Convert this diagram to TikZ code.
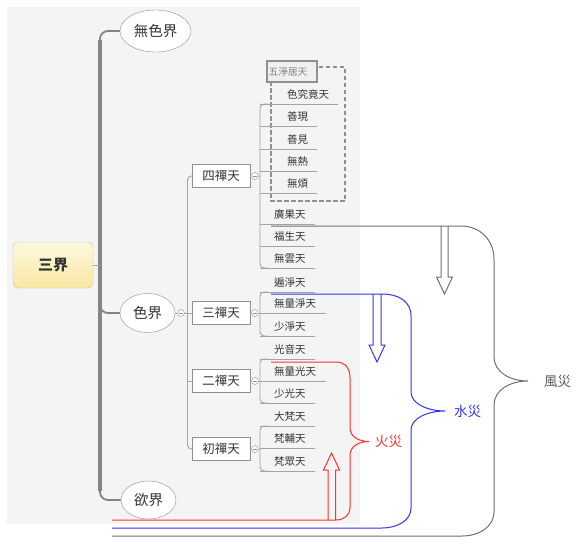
\documentclass[tikz,border=0pt]{standalone}
\usepackage{fontspec}
\setmainfont{Noto Sans CJK TC}
\usetikzlibrary{shapes.geometric}
\definecolor{bg}{HTML}{F4F4F4}
\definecolor{ln}{HTML}{A4A4A4}
\definecolor{boxln}{HTML}{909090}
\definecolor{tx}{HTML}{333333}
\definecolor{trunkc}{HTML}{858585}
\definecolor{windc}{HTML}{707070}
\definecolor{firec}{HTML}{FF3030}
\definecolor{waterc}{HTML}{3030FF}
\definecolor{rootln}{HTML}{D2C38C}
\definecolor{roottop}{HTML}{FDF9DE}
\definecolor{rootbot}{HTML}{F7E7A2}
\definecolor{blfill}{HTML}{F0F0F0}
\begin{document}
\begin{tikzpicture}[x=1pt,y=-1pt,
  conn/.style={draw=ln, line width=0.9pt},
  ulstyle/.style={draw=ln, line width=0.9pt},
  leaf/.style={inner sep=0pt, minimum height=19pt, anchor=south west, text=tx, font=\fontsize{10.5}{12}\selectfont},
  cat/.style={draw=boxln, fill=white, minimum width=58pt, minimum height=23pt, inner sep=0pt, text=tx, font=\fontsize{12.5}{14}\selectfont},
  marker/.style={circle, draw=boxln, fill=white, minimum size=7pt, inner sep=0pt,
    path picture={\draw[boxln, line width=0.6pt] ([xshift=-2pt]path picture bounding box.center) -- ([xshift=2pt]path picture bounding box.center);}},
  realm/.style={ellipse, draw=boxln, fill=white, inner sep=0pt, text=tx, font=\fontsize{14.5}{16}\selectfont},
  trunkthin/.style={draw=trunkc, line width=1.8pt},
  trunkthick/.style={draw=trunkc, line width=3.4pt},
  rootbox/.style={draw=rootln, rounded corners=5pt, top color=roottop, bottom color=rootbot, minimum width=80pt, minimum height=46pt, inner sep=0pt, text=tx, font=\fontsize{15}{17}\selectfont\bfseries},
  boundary/.style={draw=boxln, line width=2pt, dash pattern=on 4.5pt off 2.5pt},
  blabel/.style={draw=boxln, line width=2pt, fill=blfill, minimum width=50pt, minimum height=21pt, inner sep=0pt, text=gray, font=\fontsize{9.7}{11}\selectfont},
  disaster/.style={line width=1pt},
  dlabel/.style={font=\fontsize{13.5}{15}\selectfont, inner sep=0pt}
]
\useasboundingbox (0,0) rectangle (585,554);
\fill[bg] (7,7) rectangle (360,524);

% root and realms
\node[rootbox] (root) at (53,265) {三界};
\node[realm, minimum width=71pt, minimum height=42pt] (wu) at (155.5,31) {無色界};
\node[realm, minimum width=55pt, minimum height=39pt] (se) at (147.5,313) {色界};
\node[realm, minimum width=55pt, minimum height=38pt] (yu) at (148.5,500) {欲界};

\draw[trunkthin, rounded corners=8pt] (wu.west) -| (100,265) |- (yu.west);
\draw[trunkthin, rounded corners=8pt] (100,285) |- (se.west);
\draw[trunkthick] (100,40) -- (100,491);
\draw[conn] (root.east) -- (100,265);

\node[marker] (mse) at (181,313) {};
\draw[conn] (se.east) -- (mse.west);

% dhyana boxes
\node[cat] (c4) at (221,176) {四禪天};
\node[cat] (c3) at (221,313) {三禪天};
\node[cat] (c2) at (221,381) {二禪天};
\node[cat] (c1) at (221,449) {初禪天};
\node[marker] (m4) at (255,176) {};
\node[marker] (m3) at (255,313) {};
\node[marker] (m2) at (255,381) {};
\node[marker] (m1) at (255,449) {};
\draw[conn, rounded corners=4pt] (c4.west) -- (187.5,176) -- (187.5,449) -- (c1.west);
\draw[conn] (mse.east) -- (c3.west);
\draw[conn] (187.5,381) -- (c2.west);
\foreach \c/\m in {c4/m4,c3/m3,c2/m2,c1/m1} \draw[conn] (\c.east) -- (\m.west);

% boundary of 五淨居天
\draw[boundary] (271,67) rectangle (345,201);
\node[blabel] (bl) at (292,71.5) {五淨居天\hspace*{8pt}};

% leaves of 四禪天
\node[leaf] (a1) at (260,104) {\hspace*{27pt}色究竟天\hspace*{9pt}};
\node[leaf] (a2) at (260,126) {\hspace*{27pt}善現\hspace*{9pt}};
\node[leaf] (a3) at (260,149) {\hspace*{27pt}善見\hspace*{9pt}};
\node[leaf] (a4) at (260,171) {\hspace*{27pt}無熱\hspace*{9pt}};
\node[leaf] (a5) at (260,193) {\hspace*{27pt}無煩\hspace*{9pt}};
\node[leaf] (a6) at (260,224) {\hspace*{14pt}廣果天\hspace*{9.5pt}};
\node[leaf] (a7) at (260,246) {\hspace*{14pt}福生天\hspace*{9.5pt}};
\node[leaf] (a8) at (260,268) {\hspace*{14pt}無雲天\hspace*{9.5pt}};
% leaves of 三禪天
\node[leaf] (b1) at (260,292) {\hspace*{14pt}遍淨天\hspace*{9.5pt}};
\node[leaf] (b2) at (260,313) {\hspace*{14pt}無量淨天\hspace*{9.5pt}};
\node[leaf] (b3) at (260,336) {\hspace*{14pt}少淨天\hspace*{9.5pt}};
% leaves of 二禪天
\node[leaf] (d1) at (260,359) {\hspace*{14pt}光音天\hspace*{9.5pt}};
\node[leaf] (d2) at (260,381) {\hspace*{14pt}無量光天\hspace*{9.5pt}};
\node[leaf] (d3) at (260,403) {\hspace*{14pt}少光天\hspace*{9.5pt}};
% leaves of 初禪天
\node[leaf] (e1) at (260,426) {\hspace*{14pt}大梵天\hspace*{9.5pt}};
\node[leaf] (e2) at (260,448) {\hspace*{14pt}梵輔天\hspace*{9.5pt}};
\node[leaf] (e3) at (260,471) {\hspace*{14pt}梵眾天\hspace*{9.5pt}};

\foreach \n in {a1,a2,a3,a4,a5,a6,a7,a8,b1,b2,b3,d1,d2,d3,e1,e2,e3}
  \draw[ulstyle] (\n.south west) -- (\n.south east);
\foreach \f/\l/\m in {a1/a8/m4,b1/b3/m3,d1/d3/m2,e1/e3/m1}{
  \draw[conn, rounded corners=4pt] ([xshift=8pt]\f.south west) -- (\f.south west) -- (\l.south west) -- ([xshift=8pt]\l.south west);
  \draw[conn] (\m.east) -- (\m.east -| \f.south west);
}

% disaster labels
\node[dlabel, text=windc!80!black] (wind) at (557.5,381) {風災};
\node[dlabel, text=waterc] (water) at (467.5,411) {水災};
\node[dlabel, text=firec] (fire) at (388.5,441.5) {火災};
\coordinate (windtip) at (528,381);
\coordinate (watertip) at (445,411);
\coordinate (firetip) at (369,441.5);

% wind brace
\draw[disaster, draw=windc] (271,226) -- (461,226) .. controls (480,226) and (494,240) .. (494,259) -- (494,357)
  .. controls (494,372) and (510,381) .. (windtip) .. controls (510,381) and (494,390) .. (494,405)
  -- (494,512) .. controls (494,526) and (480,536) .. (462,536) -- (112,536);
% water brace
\draw[disaster, draw=waterc] (271,294) -- (382,294) .. controls (398,294) and (411,301) .. (411,316) -- (411,392)
  .. controls (411,404) and (428,411) .. (watertip) .. controls (428,411) and (411,418) .. (411,430)
  -- (411,508) .. controls (411,520) and (398,528) .. (382,528) -- (112,528);
% fire brace
\draw[disaster, draw=firec] (271,362) -- (336,362) .. controls (345,362) and (350,368) .. (350,378) -- (350,428)
  .. controls (350,436) and (358,441.5) .. (firetip) .. controls (358,441.5) and (350,447) .. (350,455)
  -- (350,508) .. controls (350,515) and (344,520) .. (336,520) -- (112,520);

% hollow arrows
\draw[disaster, draw=windc] (441,226) -- (441,277) -- (436.5,277) -- (444.5,294) -- (452.5,277) -- (448,277) -- (448,226);
\draw[disaster, draw=waterc] (373,294) -- (373,345) -- (369,345) -- (377,362) -- (385,345) -- (381,345) -- (381,294);
\draw[disaster, draw=firec] (328,520) -- (328,470) -- (323.5,470) -- (331.5,453) -- (339.5,470) -- (335.5,470) -- (335.5,520);
\end{tikzpicture}
\end{document}
